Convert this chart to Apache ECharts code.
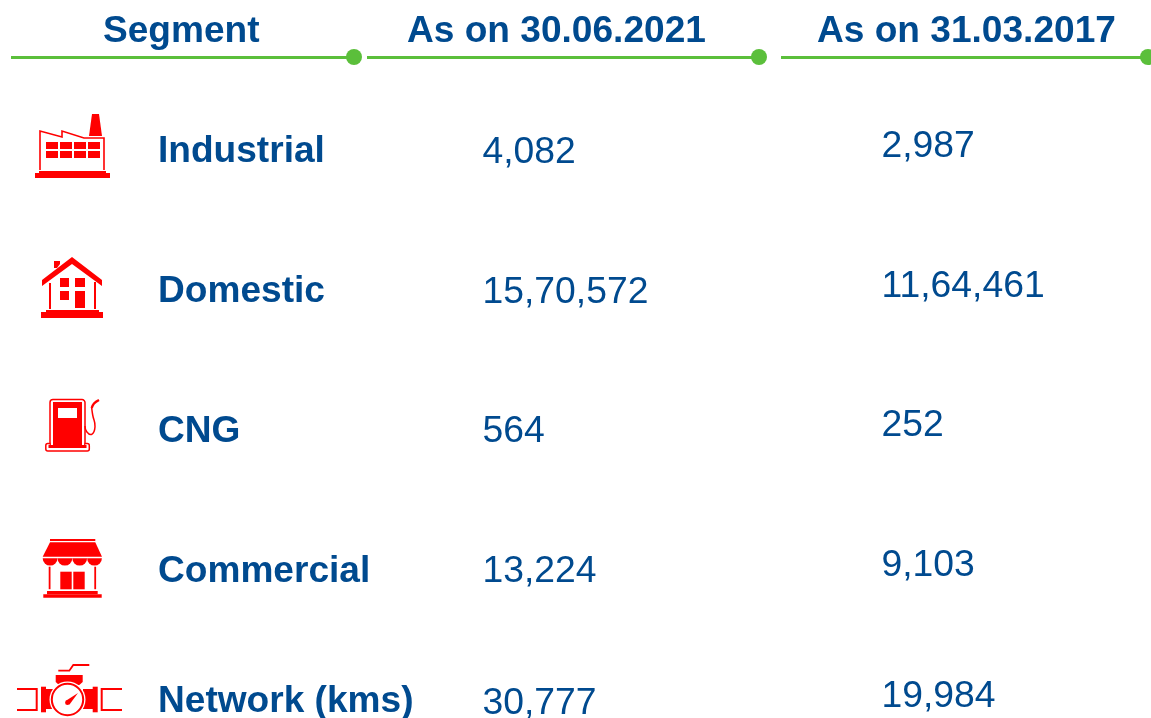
<!DOCTYPE html>
<html>
<head>
<meta charset="utf-8">
<title>Segment table</title>
<script src="https://cdn.jsdelivr.net/npm/echarts@6/dist/echarts.min.js"></script>
<style>
  html, body { margin: 0; padding: 0; background: #fff; overflow: hidden; }
  #main { width: 1151px; height: 718px; }
</style>
</head>
<body>
<div id="main"></div>
<script>
// table content
const headers = ["Segment", "As on 30.06.2021", "As on 31.03.2017"];
const segments = ["Industrial", "Domestic", "CNG", "Commercial", "Network (kms)"];
const values2021 = [4082, 1570572, 564, 13224, 30777];
const values2017 = [2987, 1164461, 252, 9103, 19984];

// layout, in page pixels (the axes below map 1:1 to the page)
const headerX = [103, 407, 817];
const headerY = 32;
const labelX = 158;
const col2021X = 482.5;
const col2017X = 881.5;
const labelY = [152, 292, 432, 572, 702];
const col2021Y = [153, 293, 432, 572, 704];
const col2017Y = [147, 287, 426, 566, 697];
const rules = [[11, 354], [367, 759], [781, 1148]];
const ruleY = 57;
const iconOrigins = [[35, 114], [41, 257], [45, 399], [42, 539], [17, 665]];

const BLUE = "#004a8f";
const GREEN = "#5bbf3b";
const RED = "#ff0000";
const FONT = '"Liberation Sans", Arial, sans-serif';

// indian digit grouping: 1570572 -> 15,70,572
function fmt(n) {
    const s = String(n);
    if (s.length <= 3) return s;
    const head = s.slice(0, -3).replace(/\B(?=(\d{2})+$)/g, ",");
    return head + "," + s.slice(-3);
}

const textRows = [];
headers.forEach((h, i) => textRows.push({ x: headerX[i], y: headerY, text: h, bold: true }));
segments.forEach((s, i) => {
    textRows.push({ x: labelX, y: labelY[i], text: s, bold: true });
    textRows.push({ x: col2021X, y: col2021Y[i], text: fmt(values2021[i]) });
    textRows.push({ x: col2017X, y: col2017Y[i], text: fmt(values2017[i]) });
});

// small helpers for the icon pieces
const rect = (x, y, width, height, fill) => ({
    type: "rect", shape: { x, y, width, height }, style: { fill: fill || RED }
});
const poly = (points, fill) => ({ type: "polygon", shape: { points }, style: { fill: fill || RED } });
const stroke = (points, lineWidth, smooth) => ({
    type: "polyline", shape: { points, smooth: smooth || 0 },
    style: { stroke: RED, lineWidth, fill: null }
});

const icons = [
    // factory
    () => [
        rect(0, 59, 75, 5), rect(4, 57, 67, 2),
        stroke([[5, 56], [5, 17], [27, 23], [27, 17], [49, 24], [69, 24], [69, 56]], 1.6),
        poly([[57, 0], [64, 0], [67, 22], [54, 22]]),
        ...[11, 25, 39, 53].flatMap(x => [rect(x, 28, 12, 7), rect(x, 37, 12, 7)])
    ],
    // house
    () => [
        rect(0, 55, 62, 6), rect(5, 53, 53, 2),
        poly([[31, 0], [61, 23], [61, 29], [31, 7], [1, 29], [1, 23]]),
        poly([[13, 4], [19, 4], [19, 7], [16, 11], [13, 11]]),
        rect(8, 26, 2, 26), rect(53, 25, 2, 27),
        rect(19, 21, 9, 9), rect(34, 21, 10, 9), rect(19, 34, 9, 9), rect(34, 34, 10, 17)
    ],
    // cng pump
    () => [
        { type: "rect", shape: { x: 0.8, y: 44.5, width: 43.5, height: 7.5, r: 2 }, style: { fill: "#fff", stroke: RED, lineWidth: 1.5 } },
        { type: "rect", shape: { x: 5, y: 0.6, width: 35, height: 46, r: 3 }, style: { fill: "#fff", stroke: RED, lineWidth: 1.5 } },
        rect(5.9, 44, 33.2, 4, "#fff"),
        rect(8, 3, 29, 44), rect(3.5, 46, 38, 3),
        rect(13, 9, 19, 10, "#fff"),
        stroke([[40, 27], [41.7, 32.7], [46.7, 35.3], [50, 27.7], [47.7, 16], [46.7, 9]], 1.5, 0.5),
        stroke([[46.7, 9], [49, 4.5], [54, 1]], 2.4, 0.4)
    ],
    // shop
    () => [
        rect(8, 0, 45.3, 2),
        poly([[8, 3.3], [53.3, 3.3], [60, 17.7], [0.7, 17.7]]),
        ...[8.1, 22.9, 37.7, 52.5].map(cx => ({
            type: "sector",
            shape: { cx, cy: 19.2, r: 7.4, r0: 0, startAngle: 0, endAngle: Math.PI, clockwise: true },
            style: { fill: RED }
        })),
        rect(6.7, 27.7, 1.8, 22.5), rect(52.3, 27.7, 1.8, 22.5),
        rect(18.3, 32.7, 11.4, 17.6), rect(31.3, 32.7, 11.4, 17.6),
        rect(5, 52, 50.7, 3.3), rect(1.3, 55.3, 58.4, 3.4)
    ],
    // network valve
    () => [
        stroke([[41.3, 5.7], [52.3, 5.7], [56.3, 0], [72.3, 0]], 1.8),
        poly([[38.7, 10], [65.7, 10], [65.7, 17], [62.3, 20], [42, 20], [38.7, 17]]),
        stroke([[0, 24], [19.7, 24], [19.7, 45], [0, 45]], 2),
        stroke([[105, 24], [84.7, 24], [84.7, 45], [105, 45]], 2),
        rect(24, 21.7, 5, 25.6), rect(75.7, 21.7, 5, 25.6),
        rect(29, 24, 9, 20), rect(66, 24, 10, 20),
        { type: "circle", shape: { cx: 50.5, cy: 34.5, r: 18 }, style: { fill: "#fff" } },
        { type: "circle", shape: { cx: 50.5, cy: 34.5, r: 15.7 }, style: { fill: "#fff", stroke: RED, lineWidth: 2 } },
        poly([[48.5, 36], [52.5, 39.5], [61, 28]]),
        { type: "circle", shape: { cx: 50.5, cy: 37.7, r: 2.4 }, style: { fill: RED } }
    ]
];

const chart = echarts.init(document.getElementById("main"));

chart.setOption({
    animation: false,
    backgroundColor: "#ffffff",
    tooltip: { show: false },
    grid: { left: 0, right: 0, top: 0, bottom: 0 },
    xAxis: { type: "value", min: 0, max: 1151, show: false },
    yAxis: { type: "value", min: 0, max: 718, inverse: true, show: false },
    series: [
        {
            // green header rules
            type: "lines",
            coordinateSystem: "cartesian2d",
            silent: true,
            lineStyle: { color: GREEN, width: 3, opacity: 1, curveness: 0 },
            data: rules.map(r => ({ coords: [[r[0], ruleY], [r[1], ruleY]] }))
        },
        {
            // dots at the end of the rules
            type: "scatter",
            silent: true,
            symbol: "circle",
            symbolSize: 16,
            itemStyle: { color: GREEN, opacity: 1 },
            data: rules.map(r => [r[1], ruleY])
        },
        {
            type: "custom",
            silent: true,
            clip: false,
            encode: { x: 0, y: 1 },
            data: textRows.map(r => [r.x, r.y]),
            renderItem(params, api) {
                const row = textRows[params.dataIndex];
                const p = api.coord([api.value(0), api.value(1)]);
                return {
                    type: "text",
                    style: {
                        text: row.text,
                        x: p[0],
                        y: p[1],
                        fill: BLUE,
                        font: (row.bold ? "bold 37.1px " : "37.3px ") + FONT,
                        textAlign: "left",
                        textVerticalAlign: "middle"
                    }
                };
            }
        },
        {
            type: "custom",
            silent: true,
            clip: false,
            encode: { x: 0, y: 1 },
            data: iconOrigins,
            renderItem(params, api) {
                const p = api.coord([api.value(0), api.value(1)]);
                return { type: "group", x: p[0], y: p[1], children: icons[params.dataIndex]() };
            }
        }
    ]
});
</script>
</body>
</html>
